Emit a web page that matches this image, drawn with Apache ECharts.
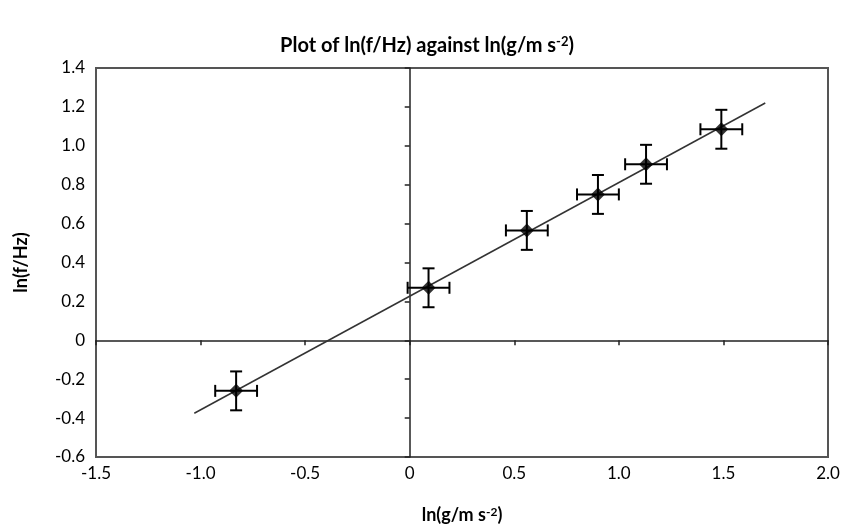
<!DOCTYPE html>
<html>
<head>
<meta charset="utf-8">
<script src="https://cdn.jsdelivr.net/npm/echarts@6/dist/echarts.min.js"></script>
<style>
html,body{margin:0;padding:0;background:#fff;}
#chart{width:844px;height:530px;}
</style>
</head>
<body>
<div id="chart"></div>
<script>
// Data
const xVals = [-0.83, 0.09, 0.56, 0.90, 1.13, 1.49];
const yVals = [-0.26, 0.27, 0.565, 0.75, 0.905, 1.085];
const xErr = [0.1, 0.1, 0.1, 0.1, 0.1, 0.1];
const yErr = [0.1, 0.1, 0.1, 0.1, 0.1, 0.1];
const trendX = [-1.03, 1.70];
const trendY = [-0.375, 1.22];
const xTicks = [-1.5, -1.0, -0.5, 0, 0.5, 1.0, 1.5, 2.0];
const yTicks = [-0.6, -0.4, -0.2, 0, 0.2, 0.4, 0.6, 0.8, 1.0, 1.2, 1.4];

const FONT = 'Lato';
const fmt = v => (Math.abs(v) < 1e-9 ? '0' : v.toFixed(1));

const points = xVals.map((x, i) => [x, yVals[i]]);
const errData = xVals.map((x, i) => [x, yVals[i], xErr[i], yErr[i]]);
const trend = trendX.map((x, i) => [x, trendY[i]]);

const chart = echarts.init(document.getElementById('chart'));

const labelStyle = {color: '#000', fontFamily: FONT, fontSize: 17};

chart.setOption({
  backgroundColor: '#fff',
  animation: false,
  title: {
    text: '{n|Plot of ln(f/Hz) against ln(g/m s}{s|-2}{n|)}',
    left: 422, top: 30, textAlign: 'center',
    textStyle: {
      rich: {
        n: {fontFamily: FONT, fontSize: 20, fontWeight: 'bold', color: '#000'},
        s: {fontFamily: FONT, fontSize: 13, fontWeight: 'bold', color: '#000', padding: [0, 0, 8, 0]}
      }
    }
  },
  grid: {
    left: 96, right: 16, top: 68, bottom: 73,
    show: true, borderColor: '#555', borderWidth: 2, backgroundColor: '#fff'
  },
  xAxis: [
    {
      type: 'value', min: xTicks[0], max: xTicks[xTicks.length - 1], interval: 0.5,
      position: 'bottom',
      axisLine: {show: false, onZero: false},
      axisTick: {show: false},
      splitLine: {show: false},
      axisLabel: Object.assign({margin: 8, formatter: fmt}, labelStyle),
      name: '{n|ln(g/m s}{s|-2}{n|)}',
      nameLocation: 'middle', nameGap: 49,
      nameTextStyle: {
        rich: {
          n: {fontFamily: FONT, fontSize: 18, fontWeight: 'bold', color: '#000'},
          s: {fontFamily: FONT, fontSize: 12, fontWeight: 'bold', color: '#000', padding: [0, 0, 7, 0]}
        }
      }
    },
    {
      type: 'value', min: xTicks[0], max: xTicks[xTicks.length - 1], interval: 0.5,
      position: 'bottom',
      axisLine: {show: true, onZero: true, onZeroAxisIndex: 0, lineStyle: {color: '#222', width: 1.5}},
      axisTick: {show: true, length: 5, lineStyle: {color: '#222', width: 1.5}},
      axisLabel: {show: false},
      splitLine: {show: false}
    }
  ],
  yAxis: [
    {
      type: 'value', min: yTicks[0], max: yTicks[yTicks.length - 1], interval: 0.2,
      position: 'left',
      axisLine: {show: false, onZero: false},
      axisTick: {show: false},
      splitLine: {show: false},
      axisLabel: Object.assign({margin: 11, formatter: fmt}, labelStyle),
      name: 'ln(f/Hz)',
      nameLocation: 'middle', nameGap: 66, nameRotate: 90,
      nameTextStyle: {fontFamily: FONT, fontSize: 18, fontWeight: 'bold', color: '#000'}
    },
    {
      type: 'value', min: yTicks[0], max: yTicks[yTicks.length - 1], interval: 0.2,
      position: 'left',
      axisLine: {show: true, onZero: true, onZeroAxisIndex: 0, lineStyle: {color: '#222', width: 1.5}},
      axisTick: {show: true, length: 5, lineStyle: {color: '#222', width: 1.5}},
      axisLabel: {show: false},
      splitLine: {show: false}
    }
  ],
  series: [
    {
      type: 'line', data: trend, xAxisIndex: 0, yAxisIndex: 0,
      symbol: 'none', lineStyle: {color: '#333', width: 1.5}, z: 3, silent: true
    },
    {
      type: 'custom', data: errData, xAxisIndex: 0, yAxisIndex: 0, z: 4, silent: true,
      renderItem: function (params, api) {
        const x = api.value(0), y = api.value(1), ex = api.value(2), ey = api.value(3);
        const l = api.coord([x - ex, y]), r = api.coord([x + ex, y]);
        const t = api.coord([x, y + ey]), b = api.coord([x, y - ey]);
        const cap = 6;
        const st = {stroke: '#000', lineWidth: 2};
        const ln = (x1, y1, x2, y2) => ({type: 'line', shape: {x1, y1, x2, y2}, style: st});
        return {
          type: 'group',
          children: [
            ln(l[0], l[1], r[0], r[1]),
            ln(l[0], l[1] - cap, l[0], l[1] + cap),
            ln(r[0], r[1] - cap, r[0], r[1] + cap),
            ln(t[0], t[1], b[0], b[1]),
            ln(t[0] - cap, t[1], t[0] + cap, t[1]),
            ln(b[0] - cap, b[1], b[0] + cap, b[1])
          ]
        };
      }
    },
    {
      type: 'scatter', data: points, xAxisIndex: 0, yAxisIndex: 0, z: 5,
      symbol: 'diamond', symbolSize: 14,
      itemStyle: {color: '#000'}
    }
  ]
});
</script>
</body>
</html>
